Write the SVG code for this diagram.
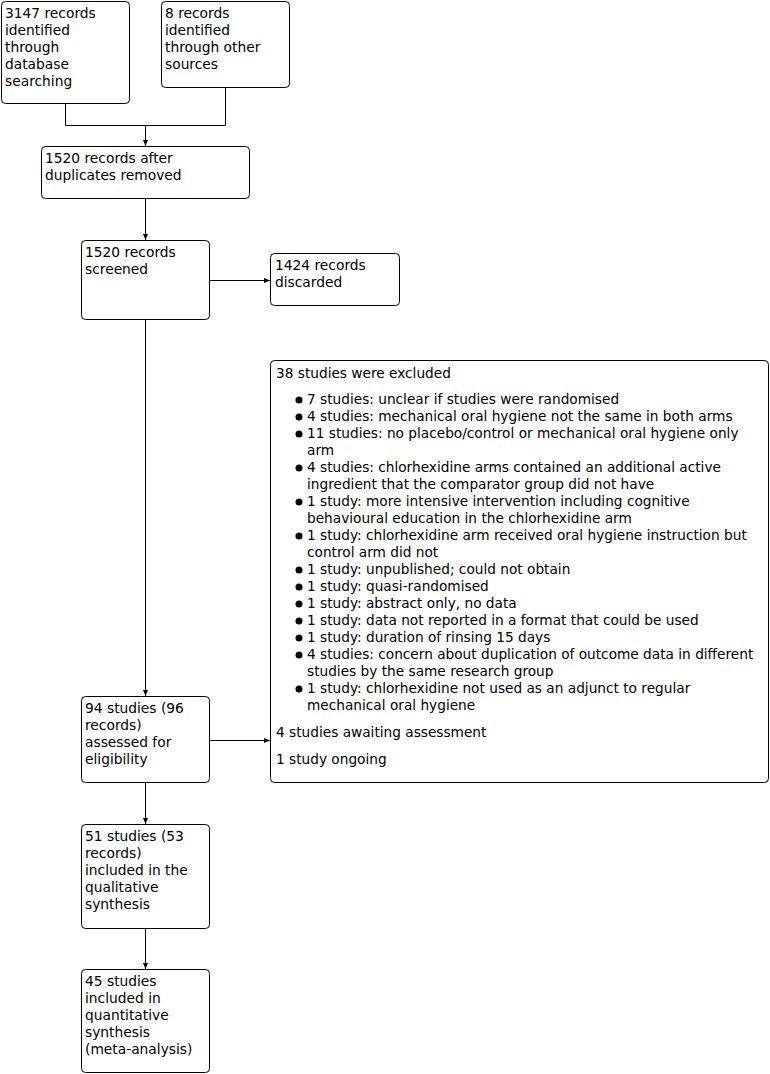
<svg xmlns="http://www.w3.org/2000/svg" width="770" height="1074" viewBox="0 0 770 1074">
<style>
.box{fill:#fff;stroke:#000;stroke-width:1}
text{font-family:"DejaVu Sans",sans-serif;font-size:13.8px;fill:#000}
.ex text{font-size:13.7px}
.ln{fill:none;stroke:#000;stroke-width:1}
</style>
<defs>
<marker id="ah" viewBox="0 0 6 6" refX="6" refY="3" markerWidth="6" markerHeight="6" markerUnits="userSpaceOnUse" orient="auto">
<path d="M0,0.5 L6,3 L0,5.5 Z" fill="#000"/>
</marker>
</defs>
<rect width="770" height="1074" fill="#fff"/>
<g id="connectors">
<path class="ln" d="M65.5,103 V125.5 H225.5 V87"/>
<path class="ln" d="M145.5,125.5 V146" marker-end="url(#ah)"/>
<path class="ln" d="M145.5,198 V240" marker-end="url(#ah)"/>
<path class="ln" d="M209,280.5 H270" marker-end="url(#ah)"/>
<path class="ln" d="M145.5,319 V696" marker-end="url(#ah)"/>
<path class="ln" d="M209,740.5 H270" marker-end="url(#ah)"/>
<path class="ln" d="M145.5,782 V824" marker-end="url(#ah)"/>
<path class="ln" d="M145.5,928 V969" marker-end="url(#ah)"/>
</g>
<g id="n1">
<rect class="box" x="1.5" y="1.5" width="128" height="102" rx="4"/>
<text x="5" y="18">3147 records</text>
<text x="5" y="35">identified</text>
<text x="5" y="52">through</text>
<text x="5" y="69">database</text>
<text x="5" y="86">searching</text>
</g>
<g id="n2">
<rect class="box" x="161.5" y="1.5" width="128" height="86" rx="4"/>
<text x="165" y="18">8 records</text>
<text x="165" y="35">identified</text>
<text x="165" y="52">through other</text>
<text x="165" y="69">sources</text>
</g>
<g id="n3">
<rect class="box" x="41.5" y="146.5" width="208" height="52" rx="4"/>
<text x="45" y="163">1520 records after</text>
<text x="45" y="180">duplicates removed</text>
</g>
<g id="n4">
<rect class="box" x="81.5" y="240.5" width="128" height="79" rx="4"/>
<text x="85" y="257">1520 records</text>
<text x="85" y="274">screened</text>
</g>
<g id="n5">
<rect class="box" x="270.5" y="253.5" width="129" height="52" rx="4"/>
<text x="275" y="270">1424 records</text>
<text x="275" y="287">discarded</text>
</g>
<g id="n6" class="ex">
<rect class="box" x="270.5" y="360.5" width="498" height="422" rx="4"/>
<text x="276" y="378">38 studies were excluded</text>
<g fill="#000">
<circle cx="299" cy="400" r="3.5"/>
<circle cx="299" cy="417" r="3.5"/>
<circle cx="299" cy="434" r="3.5"/>
<circle cx="299" cy="468" r="3.5"/>
<circle cx="299" cy="502" r="3.5"/>
<circle cx="299" cy="536" r="3.5"/>
<circle cx="299" cy="570" r="3.5"/>
<circle cx="299" cy="587" r="3.5"/>
<circle cx="299" cy="604" r="3.5"/>
<circle cx="299" cy="621" r="3.5"/>
<circle cx="299" cy="638" r="3.5"/>
<circle cx="299" cy="655" r="3.5"/>
<circle cx="299" cy="689" r="3.5"/>
</g>
<text x="307" y="404">7 studies: unclear if studies were randomised</text>
<text x="307" y="421">4 studies: mechanical oral hygiene not the same in both arms</text>
<text x="307" y="438">11 studies: no placebo/control or mechanical oral hygiene only</text>
<text x="307" y="455">arm</text>
<text x="307" y="472">4 studies: chlorhexidine arms contained an additional active</text>
<text x="307" y="489">ingredient that the comparator group did not have</text>
<text x="307" y="506">1 study: more intensive intervention including cognitive</text>
<text x="307" y="523">behavioural education in the chlorhexidine arm</text>
<text x="307" y="540">1 study: chlorhexidine arm received oral hygiene instruction but</text>
<text x="307" y="557">control arm did not</text>
<text x="307" y="574">1 study: unpublished; could not obtain</text>
<text x="307" y="591">1 study: quasi-randomised</text>
<text x="307" y="608">1 study: abstract only, no data</text>
<text x="307" y="625">1 study: data not reported in a format that could be used</text>
<text x="307" y="642">1 study: duration of rinsing 15 days</text>
<text x="307" y="659">4 studies: concern about duplication of outcome data in different</text>
<text x="307" y="676">studies by the same research group</text>
<text x="307" y="693">1 study: chlorhexidine not used as an adjunct to regular</text>
<text x="307" y="710">mechanical oral hygiene</text>
<text x="276" y="737">4 studies awaiting assessment</text>
<text x="276" y="764">1 study ongoing</text>
</g>
<g id="n7">
<rect class="box" x="81.5" y="696.5" width="128" height="86" rx="4"/>
<text x="85" y="713">94 studies (96</text>
<text x="85" y="730">records)</text>
<text x="85" y="747">assessed for</text>
<text x="85" y="764">eligibility</text>
</g>
<g id="n8">
<rect class="box" x="81.5" y="824.5" width="128" height="104" rx="4"/>
<text x="85" y="841">51 studies (53</text>
<text x="85" y="858">records)</text>
<text x="85" y="875">included in the</text>
<text x="85" y="892">qualitative</text>
<text x="85" y="909">synthesis</text>
</g>
<g id="n9">
<rect class="box" x="81.5" y="969.5" width="128" height="103" rx="4"/>
<text x="85" y="986">45 studies</text>
<text x="85" y="1003">included in</text>
<text x="85" y="1020">quantitative</text>
<text x="85" y="1037">synthesis</text>
<text x="85" y="1054">(meta-analysis)</text>
</g>
</svg>
